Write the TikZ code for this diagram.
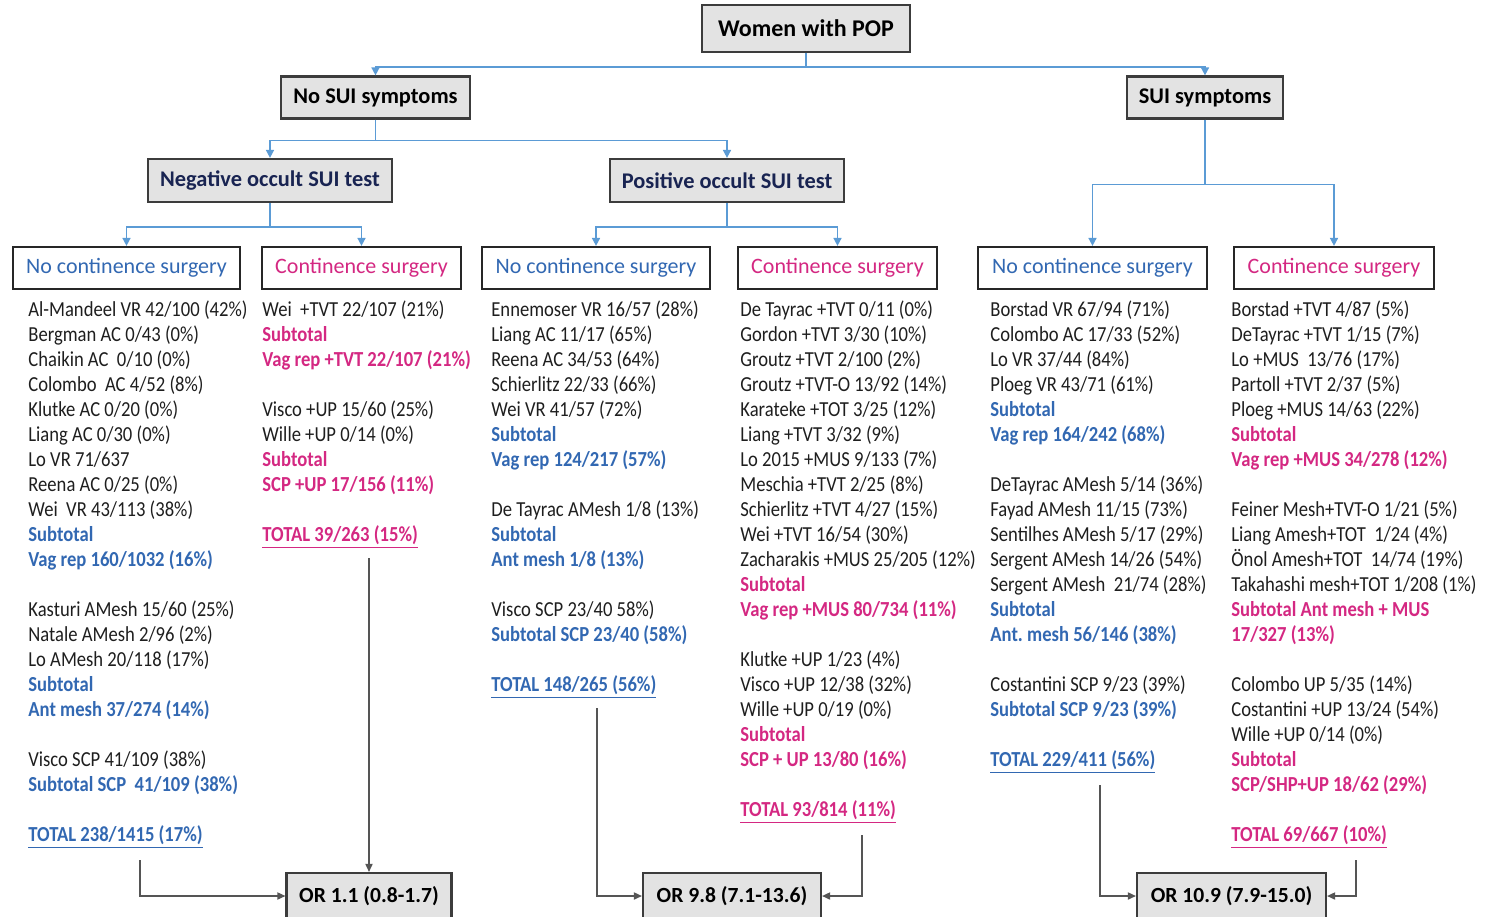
\documentclass[tikz,border=0pt]{standalone}
\usepackage{fontspec}
\setmainfont{Carlito}
\newfontfamily\colfont{Carlito}[FakeStretch=0.87]
\usepackage{xcolor}
\usetikzlibrary{positioning, arrows.meta}

\definecolor{treeblue}{RGB}{91,155,213}
\definecolor{txtblue}{RGB}{50,104,178}
\definecolor{txtpink}{RGB}{212,40,130}
\definecolor{navytext}{RGB}{25,36,82}
\definecolor{boxfill}{RGB}{227,227,227}
\definecolor{edgegray}{RGB}{60,60,60}
\definecolor{linkgray}{RGB}{85,85,85}
\definecolor{txtblack}{RGB}{30,30,30}

\newcommand{\bsub}[1]{{\color{txtblue}\bfseries #1}}
\newcommand{\psub}[1]{{\color{txtpink}\bfseries #1}}
\newcommand{\btot}[1]{{\color{txtblue}\bfseries\underline{#1}}}
\newcommand{\ptot}[1]{{\color{txtpink}\bfseries\underline{#1}}}

\begin{document}
\begin{tikzpicture}[
  x=0.5pt, y=-0.5pt,
  hdrbox/.style={draw=edgegray, line width=1.1pt, fill=boxfill, align=center, inner xsep=6pt, minimum height=21pt, font=\bfseries\fontsize{11.2}{13.4}\selectfont},
  catbox/.style={draw=black!85, line width=1.1pt, fill=white, align=center, inner xsep=6pt, minimum height=21pt, font=\fontsize{11}{13}\selectfont},
  orbox/.style={draw=edgegray, line width=1.1pt, fill=boxfill, align=center, minimum height=23pt, font=\bfseries\fontsize{10.8}{13}\selectfont},
  col/.style={anchor=north west, align=left, inner sep=0pt, text=txtblack, font=\colfont\fontsize{10.7}{12.5}\selectfont},
  tree/.style={draw=treeblue, line width=0.8pt, -{Triangle[length=4pt, width=4pt]}},
  link/.style={draw=linkgray, line width=0.6pt, -{Triangle[length=4pt, width=3.6pt]}}
]
\useasboundingbox (0,0) rectangle (1489,916);

% top of the tree
\node[hdrbox, minimum width=104pt, minimum height=23.5pt, font=\bfseries\fontsize{12}{14}\selectfont] (women) at (806,28.5) {Women with POP};
\node[hdrbox, minimum width=92.5pt] (nosui) at (375.5,97.5) {No SUI symptoms};
\node[hdrbox, minimum width=77pt] (sui) at (1205,97.5) {SUI symptoms};
\node[hdrbox, text=navytext, minimum width=119pt, minimum height=21.5pt] (neg) at (270,180.5) {Negative occult SUI test};
\node[hdrbox, text=navytext, minimum width=115pt, minimum height=21.5pt] (pos) at (727,180.5) {Positive occult SUI test};

\node[catbox, text=txtblue, minimum width=113.5pt] (noA) at (126.5,268) {No continence surgery};
\node[catbox, text=txtpink, minimum width=99.5pt] (conB) at (361.5,268) {Continence surgery};
\node[catbox, text=txtblue, minimum width=114pt] (noC) at (596,268) {No continence surgery};
\node[catbox, text=txtpink, minimum width=99.5pt] (conD) at (837.5,268) {Continence surgery};
\node[catbox, text=txtblue, minimum width=114.5pt] (noE) at (1092.5,268) {No continence surgery};
\node[catbox, text=txtpink, minimum width=100pt] (conF) at (1334,268) {Continence surgery};

\draw[tree] (women.south) -- ++(0,14) -| (nosui.north);
\draw[tree] (women.south) -- ++(0,14) -| (sui.north);
\draw[tree] (nosui.south) -- ++(0,21) -| (neg.north);
\draw[tree] (nosui.south) -- ++(0,21) -| (pos.north);
\draw[tree] (sui.south) -- ++(0,65) -| (noE.north);
\draw[tree] (sui.south) -- ++(0,65) -| (conF.north);
\draw[tree] (neg.south) -- ++(0,24) -| (noA.north);
\draw[tree] (neg.south) -- ++(0,24) -| (conB.north);
\draw[tree] (pos.south) -- ++(0,24) -| (noC.north);
\draw[tree] (pos.south) -- ++(0,24) -| (conD.north);

% study lists
\node[col] (colA) at (28,300) {Al-Mandeel VR 42/100 (42\%)\\
Bergman AC 0/43 (0\%)\\
Chaikin AC\ \ 0/10 (0\%)\\
Colombo\ \ AC 4/52 (8\%)\\
Klutke AC 0/20 (0\%)\\
Liang AC 0/30 (0\%)\\
Lo VR 71/637\\
Reena AC 0/25 (0\%)\\
Wei\ \ VR 43/113 (38\%)\\
\bsub{Subtotal}\\
\bsub{Vag rep 160/1032 (16\%)}\\[12.5pt]
Kasturi AMesh 15/60 (25\%)\\
Natale AMesh 2/96 (2\%)\\
Lo AMesh 20/118 (17\%)\\
\bsub{Subtotal}\\
\bsub{Ant mesh 37/274 (14\%)}\\[12.5pt]
Visco SCP 41/109 (38\%)\\
\bsub{Subtotal SCP\ \ 41/109 (38\%)}\\[12.5pt]
\btot{TOTAL 238/1415 (17\%)}};

\node[col] (colB) at (262,300) {Wei\ \ +TVT 22/107 (21\%)\\
\psub{Subtotal}\\
\psub{Vag rep +TVT 22/107 (21\%)}\\[12.5pt]
Visco +UP 15/60 (25\%)\\
Wille +UP 0/14 (0\%)\\
\psub{Subtotal}\\
\psub{SCP +UP 17/156 (11\%)}\\[12.5pt]
\ptot{TOTAL 39/263 (15\%)}};

\node[col] (colC) at (491,300) {Ennemoser VR 16/57 (28\%)\\
Liang AC 11/17 (65\%)\\
Reena AC 34/53 (64\%)\\
Schierlitz 22/33 (66\%)\\
Wei VR 41/57 (72\%)\\
\bsub{Subtotal}\\
\bsub{Vag rep 124/217 (57\%)}\\[12.5pt]
De Tayrac AMesh 1/8 (13\%)\\
\bsub{Subtotal}\\
\bsub{Ant mesh 1/8 (13\%)}\\[12.5pt]
Visco SCP 23/40 58\%)\\
\bsub{Subtotal SCP 23/40 (58\%)}\\[12.5pt]
\btot{TOTAL 148/265 (56\%)}};

\node[col] (colD) at (740,300) {De Tayrac +TVT 0/11 (0\%)\\
Gordon +TVT 3/30 (10\%)\\
Groutz +TVT 2/100 (2\%)\\
Groutz +TVT-O 13/92 (14\%)\\
Karateke +TOT 3/25 (12\%)\\
Liang +TVT 3/32 (9\%)\\
Lo 2015 +MUS 9/133 (7\%)\\
Meschia +TVT 2/25 (8\%)\\
Schierlitz +TVT 4/27 (15\%)\\
Wei +TVT 16/54 (30\%)\\
Zacharakis +MUS 25/205 (12\%)\\
\psub{Subtotal}\\
\psub{Vag rep +MUS 80/734 (11\%)}\\[12.5pt]
Klutke +UP 1/23 (4\%)\\
Visco +UP 12/38 (32\%)\\
Wille +UP 0/19 (0\%)\\
\psub{Subtotal}\\
\psub{SCP + UP 13/80 (16\%)}\\[12.5pt]
\ptot{TOTAL 93/814 (11\%)}};

\node[col] (colE) at (990,300) {Borstad VR 67/94 (71\%)\\
Colombo AC 17/33 (52\%)\\
Lo VR 37/44 (84\%)\\
Ploeg VR 43/71 (61\%)\\
\bsub{Subtotal}\\
\bsub{Vag rep 164/242 (68\%)}\\[12.5pt]
DeTayrac AMesh 5/14 (36\%)\\
Fayad AMesh 11/15 (73\%)\\
Sentilhes AMesh 5/17 (29\%)\\
Sergent AMesh 14/26 (54\%)\\
Sergent AMesh\ \ 21/74 (28\%)\\
\bsub{Subtotal}\\
\bsub{Ant.\ mesh 56/146 (38\%)}\\[12.5pt]
Costantini SCP 9/23 (39\%)\\
\bsub{Subtotal SCP 9/23 (39\%)}\\[12.5pt]
\btot{TOTAL 229/411 (56\%)}};

\node[col] (colF) at (1231,300) {Borstad +TVT 4/87 (5\%)\\
DeTayrac +TVT 1/15 (7\%)\\
Lo +MUS\ \ 13/76 (17\%)\\
Partoll +TVT 2/37 (5\%)\\
Ploeg +MUS 14/63 (22\%)\\
\psub{Subtotal}\\
\psub{Vag rep +MUS 34/278 (12\%)}\\[12.5pt]
Feiner Mesh+TVT-O 1/21 (5\%)\\
Liang Amesh+TOT\ \ 1/24 (4\%)\\
Önol Amesh+TOT\ \ 14/74 (19\%)\\
Takahashi mesh+TOT 1/208 (1\%)\\
\psub{Subtotal Ant mesh + MUS}\\
\psub{17/327 (13\%)}\\[12.5pt]
Colombo UP 5/35 (14\%)\\
Costantini +UP 13/24 (54\%)\\
Wille +UP 0/14 (0\%)\\
\psub{Subtotal}\\
\psub{SCP/SHP+UP 18/62 (29\%)}\\[12.5pt]
\ptot{TOTAL 69/667 (10\%)}};

% odds ratios
\node[orbox, minimum width=82.5pt] (or1) at (369,896) {OR 1.1 (0.8-1.7)};
\node[orbox, minimum width=89pt] (or2) at (732,896) {OR 9.8 (7.1-13.6)};
\node[orbox, minimum width=94.5pt] (or3) at (1231.5,896) {OR 10.9 (7.9-15.0)};

\coordinate (tA) at (140,860);
\coordinate (tB) at (369,558);
\coordinate (tC) at (597,708);
\coordinate (tD) at (862,835);
\coordinate (tE) at (1100,785);
\coordinate (tF) at (1356,860);

\draw[link] (tA) |- (or1);
\draw[link] (tB) -- (or1);
\draw[link] (tC) |- (or2);
\draw[link] (tD) |- (or2);
\draw[link] (tE) |- (or3);
\draw[link] (tF) |- (or3);

\end{tikzpicture}
\end{document}
